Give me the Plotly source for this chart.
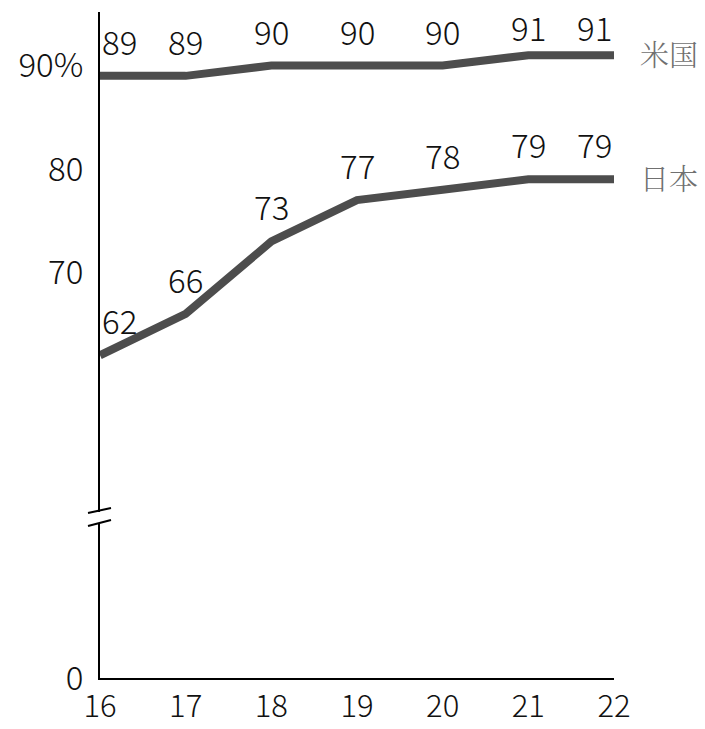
import plotly.graph_objects as go
from plotly.subplots import make_subplots

years = [16, 17, 18, 19, 20, 21, 22]
us = [89, 89, 90, 90, 90, 91, 91]
japan = [62, 66, 73, 77, 78, 79, 79]
series_names = ["米国", "日本"]
top_ticks = [70, 80, 90]
top_ticktext = ["70", "80", "90%"]

LINE = "#4d4d4d"
NUM_FONT = "Noto Sans CJK JP"
NUM_SIZE = 33
W, H = 705, 729
L, R, T, B = 100, 91, 12, 51
plot_h = H - T - B
break_top_px, break_bot_px = 512, 523  # pixel rows where the axis break sits
top_dom0 = (H - B - break_top_px) / plot_h
bot_dom1 = (H - B - break_bot_px) / plot_h

num_font = dict(family=NUM_FONT, size=NUM_SIZE, color="#111", weight=300)
xtick_font = dict(family=NUM_FONT, size=31, color="#111", weight=300)

fig = make_subplots(rows=2, cols=1, shared_xaxes=True, vertical_spacing=0)

for vals in (us, japan):
    fig.add_trace(go.Scatter(x=years, y=vals, mode="lines",
                             line=dict(color=LINE, width=8),
                             showlegend=False, hoverinfo="skip"), row=1, col=1)

# value labels above each point; the topmost ones sit a little closer to
# the line so they stay inside the figure
n = len(years)
top_value = max(max(us), max(japan))
for vals in (us, japan):
    for i, (x, v) in enumerate(zip(years, vals)):
        anchor = "left" if i == 0 else ("right" if i == n - 1 else "center")
        shift = 2 if v == top_value else 9
        fig.add_annotation(x=x, y=v, xref="x", yref="y", text=str(v),
                           showarrow=False, xanchor=anchor, yanchor="bottom",
                           yshift=shift, font=num_font)

# series names at the right end
for name, vals in zip(series_names, (us, japan)):
    fig.add_annotation(x=years[-1], y=vals[-1], xref="x", yref="y", text=name,
                       showarrow=False, xanchor="left", yanchor="middle",
                       xshift=24, yshift=2,
                       font=dict(family="Noto Serif CJK JP, Noto Sans CJK JP, serif",
                                 size=29, color="#707070", weight=300))

# invisible trace so the lower panel has an axis
fig.add_trace(go.Scatter(x=years, y=[None] * n, mode="lines",
                         showlegend=False, hoverinfo="skip"), row=2, col=1)

fig.update_xaxes(range=[16, 22], showgrid=False, zeroline=False, automargin=False)
fig.update_xaxes(row=1, col=1, showline=False, showticklabels=False)
fig.update_xaxes(row=2, col=1, showline=True, linecolor="black", linewidth=2,
                 tickvals=years, ticktext=[str(y) for y in years],
                 ticks="", ticklabelstandoff=0, tickfont=xtick_font)

fig.update_yaxes(row=1, col=1, domain=[top_dom0, 1], range=[46.86, 95.17],
                 showline=True, linecolor="black", linewidth=2, showgrid=False,
                 zeroline=False, tickvals=top_ticks, ticktext=top_ticktext,
                 ticks="", ticklabelstandoff=8, tickfont=num_font, automargin=False)
fig.update_yaxes(row=2, col=1, domain=[0, bot_dom1], range=[0, 10],
                 showline=True, linecolor="black", linewidth=2, showgrid=False,
                 zeroline=False, tickvals=[0], ticktext=["0"],
                 ticks="", ticklabelstandoff=8, tickfont=num_font, automargin=False)

# break marks across the vertical axis
def py(p):
    return (H - B - p) / plot_h

def px(p):
    return (p - L) / (W - L - R)

for y0, y1 in ((513, 508), (526, 520)):
    fig.add_shape(type="line", xref="paper", yref="paper",
                  x0=px(88), x1=px(111), y0=py(y0), y1=py(y1),
                  line=dict(color="black", width=2))

fig.update_layout(width=W, height=H, margin=dict(l=L, r=R, t=T, b=B),
                  plot_bgcolor="white", paper_bgcolor="white")

fig.write_html("out.html")
